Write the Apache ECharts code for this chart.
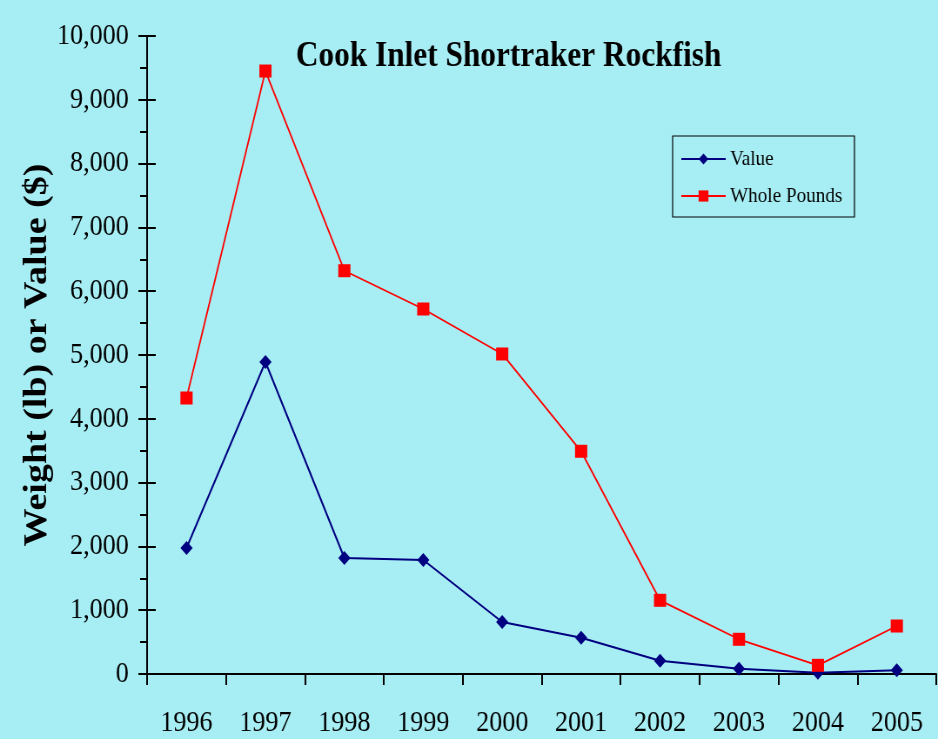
<!DOCTYPE html>
<html>
<head>
<meta charset="utf-8">
<script src="https://cdn.jsdelivr.net/npm/echarts@6/dist/echarts.min.js"></script>
<style>
  html, body { margin: 0; padding: 0; background: #a7eef4; overflow: hidden; }
  /* the original is squeezed sideways, so draw wider and squeeze */
  #main { width: 1078px; height: 739px; transform: scaleX(0.87013); transform-origin: 0 0; }
</style>
</head>
<body>
<div id="main"></div>
<script>
var years = ['1996', '1997', '1998', '1999', '2000', '2001', '2002', '2003', '2004', '2005'];
var valueData = [1975, 4890, 1818, 1787, 815, 569, 208, 83, 20, 58];
var poundsData = [4326, 9451, 6321, 5721, 5016, 3491, 1155, 544, 136, 752];

var serif = '"Liberation Serif", "Times New Roman", serif';

var chart = echarts.init(document.getElementById('main'));
chart.setOption({
  backgroundColor: '#a7eef4',
  animation: false,
  title: {
    text: 'Cook Inlet Shortraker Rockfish',
    left: 335,
    top: 34,
    textStyle: { fontFamily: serif, fontSize: 36, fontWeight: 'bold', color: '#000' }
  },
  legend: {
    orient: 'vertical',
    left: 773,
    top: 136,
    padding: [12, 14, 10, 9],
    itemWidth: 51,
    itemHeight: 14,
    itemGap: 15,
    borderColor: '#000',
    borderWidth: 1.2,
    textStyle: { fontFamily: serif, fontSize: 22, color: '#000' },
    data: ['Value', 'Whole Pounds']
  },
  grid: { left: 169, right: 2, top: 36, bottom: 65 },
  xAxis: {
    type: 'category',
    data: years,
    boundaryGap: true,
    axisLine: { lineStyle: { color: '#000', width: 2 } },
    axisTick: { show: true, alignWithLabel: false, interval: 0, length: 11, lineStyle: { color: '#000', width: 2 } },
    axisLabel: { margin: 34, fontFamily: serif, fontSize: 30, color: '#000' }
  },
  yAxis: [{
    type: 'value',
    min: 0,
    max: 10000,
    interval: 1000,
    name: 'Weight (lb) or Value ($)',
    nameLocation: 'middle',
    nameGap: 107,
    nameMoveOverlap: false,
    nameTextStyle: { fontFamily: serif, fontSize: 38, fontWeight: 'bold', color: '#000' },
    axisLine: { show: true, lineStyle: { color: '#000', width: 2 } },
    axisTick: { show: true, length: 10, lineStyle: { color: '#000', width: 2 } },
    minorTick: { show: true, splitNumber: 2, length: 8, lineStyle: { color: '#000', width: 2 } },
    splitLine: { show: false },
    axisLabel: {
      margin: 21, fontFamily: serif, fontSize: 30, color: '#000',
      formatter: function (v) { return v.toLocaleString('en-US'); }
    }
  }, {
    // same scale, only to draw the inner half of the crossing ticks
    type: 'value',
    position: 'left',
    min: 0,
    max: 10000,
    interval: 1000,
    axisLine: { show: false },
    axisTick: { show: true, inside: true, length: 10, lineStyle: { color: '#000', width: 2 } },
    axisLabel: { show: false },
    splitLine: { show: false }
  }],
  series: [{
    name: 'Value',
    type: 'line',
    data: valueData,
    symbol: 'diamond',
    symbolSize: [14, 14],
    color: '#000080',
    lineStyle: { color: '#000080', width: 2 },
    itemStyle: { color: '#000080' }
  }, {
    name: 'Whole Pounds',
    type: 'line',
    data: poundsData,
    symbol: 'rect',
    symbolSize: [14, 13],
    color: '#ff0000',
    lineStyle: { color: '#ff0000', width: 1.8 },
    itemStyle: { color: '#ff0000' }
  }]
});
</script>
</body>
</html>
